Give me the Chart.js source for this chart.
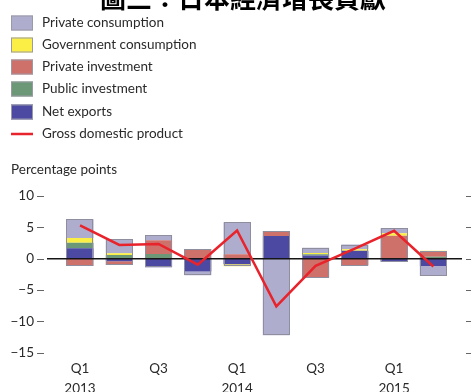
<!DOCTYPE html>
<html>
<head>
<meta charset="utf-8">
<script src="https://cdn.jsdelivr.net/npm/chart.js@4.4.1/dist/chart.umd.min.js"></script>
<style>
  html, body { margin: 0; padding: 0; background: #fff; }
  #wrap { width: 471px; height: 392px; }
</style>
</head>
<body>
<div id="wrap"><canvas id="growthChart" width="471" height="392"></canvas></div>
<script>
// Contributions to Japan's real GDP growth, percentage points (annualised q/q)
const quarters = ['2013 Q1', '2013 Q2', '2013 Q3', '2013 Q4', '2014 Q1', '2014 Q2', '2014 Q3', '2014 Q4', '2015 Q1', '2015 Q2'];
const xTickLabels = [['Q1', '2013'], '', 'Q3', '', ['Q1', '2014'], '', 'Q3', '', ['Q1', '2015'], ''];
const yTicks = [-15, -10, -5, 0, 5, 10];

const privateConsumption    = [3.0, 2.25, 0.8, -0.6, 5.1, -12.2, 0.85, 0.75, 0.8, -1.6];
const governmentConsumption = [0.75, 0.25, 0, 0, -0.3, 0, 0.2, 0.25, 0.4, 0.15];
const privateInvestment     = [-1.15, -0.6, 2.2, 1.55, 0.7, 0.8, -3.05, -1.1, 3.65, 0.8];
const publicInvestment      = [0.9, 0.6, 0.75, 0, 0, 0, 0.2, 0, 0, 0.3];
const netExports            = [1.65, -0.4, -1.35, -2.05, -0.9, 3.6, 0.5, 1.25, -0.5, -1.15];
const gdp                   = [5.3, 2.2, 2.35, -0.95, 4.5, -7.6, -1.15, 1.6, 4.45, -1.25];

const FONT = 'Lato';
const TEXT = '#2a2a2a';

// stacking order, bottom first
const barSeries = [
  { label: 'Net exports', data: netExports, color: '#4b49a2' },
  { label: 'Public investment', data: publicInvestment, color: '#6c9877' },
  { label: 'Private investment', data: privateInvestment, color: '#cf716b' },
  { label: 'Government consumption', data: governmentConsumption, color: '#fbef45' },
  { label: 'Private consumption', data: privateConsumption, color: '#afadcd' }
];

const legendItems = [
  { label: 'Private consumption', color: '#afadcd', y: 23 },
  { label: 'Government consumption', color: '#fbef45', y: 45 },
  { label: 'Private investment', color: '#cf716b', y: 67 },
  { label: 'Public investment', color: '#6c9877', y: 89 },
  { label: 'Net exports', color: '#4b49a2', y: 112 },
  { label: 'Gross domestic product', color: '#e8232b', y: 134, line: true }
];

function fmt(v) {
  return v < 0 ? '\u2212' + Math.abs(v) : String(v);
}

const decorations = {
  id: 'decorations',
  afterDatasetDraw(chart, args) {
    if (args.index !== 0) return;
    const ctx = chart.ctx;
    const metas = barSeries.map((s, i) => chart.getDatasetMeta(i));
    ctx.save();
    // outline round each column
    ctx.strokeStyle = '#8f8e9f';
    ctx.lineWidth = 1;
    quarters.forEach((q, i) => {
      let top = Infinity, bottom = -Infinity, left = 0, width = 0;
      metas.forEach(m => {
        const el = m.data[i];
        top = Math.min(top, el.y, el.base);
        bottom = Math.max(bottom, el.y, el.base);
        left = el.x - el.width / 2;
        width = el.width;
      });
      ctx.strokeRect(Math.round(left) + 0.5, Math.round(top) + 0.5, Math.round(width) - 1, Math.round(bottom - top) - 1);
    });
    // zero line
    const y0 = chart.scales.y.getPixelForValue(0);
    ctx.strokeStyle = '#151515';
    ctx.lineWidth = 1.5;
    ctx.beginPath();
    ctx.moveTo(47, y0);
    ctx.lineTo(462, y0);
    ctx.stroke();
    ctx.restore();
  },
  afterDraw(chart) {
    const ctx = chart.ctx;
    const yScale = chart.scales.y;
    ctx.save();

    // heading
    ctx.fillStyle = '#000';
    ctx.font = 'bold 26px "Noto Sans CJK TC"';
    ctx.textAlign = 'center';
    ctx.textBaseline = 'alphabetic';
    ctx.fillText('圖三：日本經濟增長貢獻', 243, 8);

    // legend
    ctx.textAlign = 'left';
    ctx.textBaseline = 'middle';
    ctx.font = '13.5px ' + FONT;
    legendItems.forEach(item => {
      if (item.line) {
        ctx.strokeStyle = item.color;
        ctx.lineWidth = 2.5;
        ctx.beginPath();
        ctx.moveTo(11, item.y);
        ctx.lineTo(33, item.y);
        ctx.stroke();
      } else {
        ctx.fillStyle = item.color;
        ctx.fillRect(11, item.y - 7.5, 22, 15);
        ctx.strokeStyle = '#9a99a6';
        ctx.lineWidth = 1;
        ctx.strokeRect(11.5, item.y - 7, 21, 14);
      }
      ctx.fillStyle = TEXT;
      ctx.fillText(item.label, 42, item.y);
    });

    // unit label
    ctx.fillText('Percentage points', 11, 170);

    // tick dashes on both sides
    ctx.strokeStyle = '#666';
    ctx.lineWidth = 1.2;
    yTicks.forEach(v => {
      const py = Math.round(yScale.getPixelForValue(v)) + 0.5;
      ctx.beginPath();
      ctx.moveTo(37, py); ctx.lineTo(44, py);
      ctx.moveTo(466, py); ctx.lineTo(471, py);
      ctx.stroke();
    });
    ctx.restore();
  }
};

const datasets = barSeries.map(s => ({
  type: 'bar',
  label: s.label,
  data: s.data,
  backgroundColor: s.color,
  borderWidth: 0,
  barPercentage: 0.69,
  categoryPercentage: 1,
  stack: 'gdp',
  order: 1
}));

datasets.push({
  type: 'line',
  label: 'Gross domestic product',
  data: gdp,
  borderColor: '#e8232b',
  borderWidth: 2.5,
  pointRadius: 0,
  tension: 0,
  fill: false,
  order: 0
});

new Chart(document.getElementById('growthChart'), {
  data: { labels: quarters, datasets: datasets },
  options: {
    responsive: false,
    animation: false,
    layout: { padding: { top: 196, right: 18, bottom: 0, left: 0 } },
    plugins: {
      legend: { display: false },
      tooltip: { enabled: false }
    },
    scales: {
      x: {
        stacked: true,
        grid: { display: false, drawTicks: false },
        border: { display: false },
        afterFit(scale) { scale.height = 39.3; },
        ticks: {
          autoSkip: false,
          maxRotation: 0,
          padding: 6,
          color: TEXT,
          font: { family: FONT, size: 13.5, lineHeight: 1.48 },
          callback: (v, i) => xTickLabels[i]
        }
      },
      y: {
        stacked: true,
        min: -15,
        max: 10,
        grid: { display: false, drawTicks: false },
        border: { display: false },
        afterFit(scale) { scale.width = 60.4; },
        ticks: {
          stepSize: 5,
          padding: 26.4,
          color: TEXT,
          font: { family: FONT, size: 13.5 },
          callback: v => fmt(v)
        }
      }
    }
  },
  plugins: [decorations]
});
</script>
</body>
</html>
